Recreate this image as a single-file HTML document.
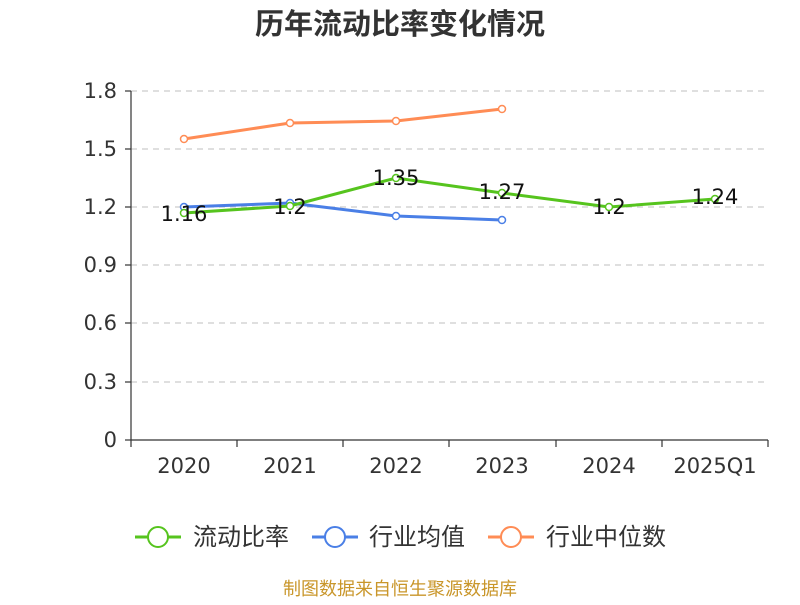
<!DOCTYPE html>
<html><head><meta charset="utf-8"><style>
body{margin:0;background:#fff;}
svg text{font-family:"DejaVu Sans","Noto Sans CJK SC",sans-serif;}
</style></head><body>
<svg width="800" height="600" viewBox="0 0 800 600" xmlns="http://www.w3.org/2000/svg">
<rect width="800" height="600" fill="#fff"/>
<text x="400" y="34" text-anchor="middle" font-size="29" font-weight="bold" fill="#333" font-family="Noto Sans CJK SC, sans-serif">历年流动比率变化情况</text>
<g stroke="#ccc" stroke-dasharray="6,5" stroke-width="1.2">
<line x1="131" y1="91" x2="768" y2="91"/><line x1="131" y1="149" x2="768" y2="149"/>
<line x1="131" y1="207" x2="768" y2="207"/><line x1="131" y1="265" x2="768" y2="265"/>
<line x1="131" y1="323" x2="768" y2="323"/><line x1="131" y1="382" x2="768" y2="382"/>
</g>
<g stroke="#333" stroke-width="1.2">
<line x1="131" y1="91" x2="131" y2="440"/><line x1="131" y1="440" x2="768" y2="440"/>
<line x1="125" y1="91" x2="131" y2="91"/><line x1="125" y1="149" x2="131" y2="149"/><line x1="125" y1="207" x2="131" y2="207"/><line x1="125" y1="265" x2="131" y2="265"/><line x1="125" y1="323" x2="131" y2="323"/><line x1="125" y1="382" x2="131" y2="382"/><line x1="125" y1="440" x2="131" y2="440"/>
<line x1="131" y1="440" x2="131" y2="447"/><line x1="237" y1="440" x2="237" y2="447"/><line x1="343" y1="440" x2="343" y2="447"/><line x1="449" y1="440" x2="449" y2="447"/><line x1="556" y1="440" x2="556" y2="447"/><line x1="662" y1="440" x2="662" y2="447"/><line x1="768" y1="440" x2="768" y2="447"/>
</g>
<g font-size="21" fill="#333" text-anchor="end">
<text x="117" y="98">1.8</text><text x="117" y="156">1.5</text><text x="117" y="214">1.2</text><text x="117" y="272">0.9</text><text x="117" y="330">0.6</text><text x="117" y="389">0.3</text><text x="117" y="447">0</text>
</g>
<g font-size="21" fill="#333" text-anchor="middle">
<text x="184" y="473">2020</text><text x="290" y="473">2021</text><text x="396" y="473">2022</text><text x="502" y="473">2023</text><text x="609" y="473">2024</text><text x="715" y="473">2025Q1</text>
</g>
<polyline fill="none" stroke="#ff8c55" stroke-width="3" points="184,139 290,123 396,121 502,109"/>
<g fill="#fff" stroke="#ff8c55" stroke-width="1.5"><circle cx="184" cy="139" r="3.5"/><circle cx="290" cy="123" r="3.5"/><circle cx="396" cy="121" r="3.5"/><circle cx="502" cy="109" r="3.5"/></g>
<polyline fill="none" stroke="#4a7fe6" stroke-width="3" points="184,207 290,203 396,216 502,220"/>
<g fill="#fff" stroke="#4a7fe6" stroke-width="1.5"><circle cx="184" cy="207" r="3.5"/><circle cx="290" cy="203" r="3.5"/><circle cx="396" cy="216" r="3.5"/><circle cx="502" cy="220" r="3.5"/></g>
<polyline fill="none" stroke="#56c41e" stroke-width="3" points="184,213 290,206 396,178 502,193 609,207 715,199"/>
<g fill="#fff" stroke="#56c41e" stroke-width="1.5"><circle cx="184" cy="213" r="3.5"/><circle cx="290" cy="206" r="3.5"/><circle cx="396" cy="178" r="3.5"/><circle cx="502" cy="193" r="3.5"/><circle cx="609" cy="207" r="3.5"/><circle cx="715" cy="199" r="3.5"/></g>
<g font-size="21" fill="#111" text-anchor="middle">
<text x="184" y="221">1.16</text><text x="290" y="214">1.2</text><text x="396" y="185">1.35</text><text x="502" y="199">1.27</text><text x="609" y="214">1.2</text><text x="715" y="204">1.24</text>
</g>
<g font-size="24" fill="#333">
<line x1="135" y1="537" x2="181" y2="537" stroke="#56c41e" stroke-width="3"/><circle cx="158" cy="537" r="10" fill="#fff" stroke="#56c41e" stroke-width="2"/>
<text x="193" y="545">流动比率</text>
<line x1="312" y1="537" x2="358" y2="537" stroke="#4a7fe6" stroke-width="3"/><circle cx="335" cy="537" r="10" fill="#fff" stroke="#4a7fe6" stroke-width="2"/>
<text x="369" y="545">行业均值</text>
<line x1="488" y1="537" x2="534" y2="537" stroke="#ff8c55" stroke-width="3"/><circle cx="511" cy="537" r="10" fill="#fff" stroke="#ff8c55" stroke-width="2"/>
<text x="546" y="545">行业中位数</text>
</g>
<text x="400" y="595" text-anchor="middle" font-size="18" fill="#c9962a">制图数据来自恒生聚源数据库</text>
</svg>
</body></html>
